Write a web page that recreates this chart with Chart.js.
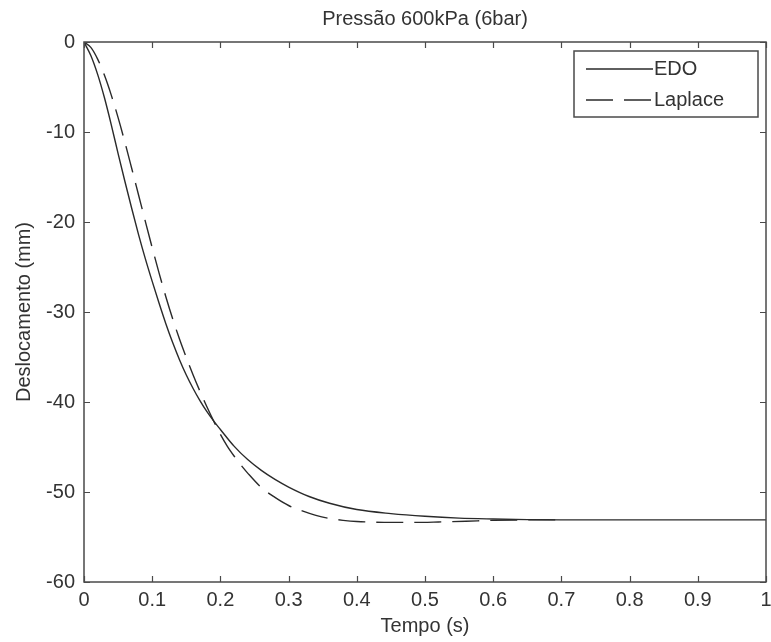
<!DOCTYPE html>
<html>
<head>
<meta charset="utf-8">
<script src="https://cdn.jsdelivr.net/npm/chart.js@4.4.1/dist/chart.umd.min.js"></script>
<style>
  body { margin: 0; background: #fff; }
  #wrap { width: 771px; height: 642px; }
</style>
</head>
<body>
<div id="wrap"><canvas id="grafico" width="771" height="642"></canvas></div>
<script>
// tempo (s) e deslocamento (mm)
const tempoEdo = [0, 0.01, 0.02, 0.03, 0.04, 0.05, 0.06, 0.07, 0.08, 0.09, 0.10, 0.11, 0.12, 0.13, 0.14, 0.15,
  0.16, 0.17, 0.18, 0.19, 0.20, 0.22, 0.24, 0.26, 0.28, 0.30, 0.33, 0.36, 0.40, 0.45, 0.50, 0.55, 0.60, 0.65, 0.70, 0.80, 1.0];
const deslocEdo = [0, -1.5, -3.6, -6.2, -9.2, -12.4, -15.5, -18.5, -21.4, -24.1, -26.6, -29.0, -31.3, -33.4, -35.3, -37.0,
  -38.5, -39.85, -41.05, -42.1, -43.05, -44.9, -46.4, -47.6, -48.6, -49.45, -50.5, -51.25, -51.95, -52.4, -52.7, -52.9, -53.0, -53.07, -53.1, -53.1, -53.1];

const tempoLaplace = [0, 0.01, 0.02, 0.03, 0.04, 0.05, 0.06, 0.07, 0.08, 0.09, 0.10, 0.11, 0.12, 0.13, 0.14, 0.15,
  0.16, 0.17, 0.18, 0.19, 0.20, 0.21, 0.22, 0.23, 0.24, 0.26, 0.28, 0.30, 0.32, 0.34, 0.36, 0.38, 0.40, 0.44, 0.48,
  0.52, 0.56, 0.60, 0.65, 0.70];
const deslocLaplace = [0, -0.6, -1.9, -3.7, -5.9, -8.4, -11.15, -14.05, -17.0, -19.95, -22.85, -25.65, -28.3, -30.75, -33.0, -35.05,
  -37.0, -38.8, -40.5, -42.1, -43.6, -44.9, -46.0, -47.0, -47.9, -49.5, -50.6, -51.5, -52.1, -52.6, -52.95, -53.15, -53.28, -53.37, -53.38,
  -53.33, -53.25, -53.15, -53.1, -53.1];

const ticksX = [0, 0.1, 0.2, 0.3, 0.4, 0.5, 0.6, 0.7, 0.8, 0.9, 1];
const rotulosX = ['0', '0.1', '0.2', '0.3', '0.4', '0.5', '0.6', '0.7', '0.8', '0.9', '1'];
const ticksY = [-60, -50, -40, -30, -20, -10, 0];
const rotulosY = ['-60', '-50', '-40', '-30', '-20', '-10', '0'];

const fonte = { family: '"Liberation Sans", Arial, sans-serif', size: 20 };
const corEixo = '#4a4a4a';
const corTexto = '#333333';

const pontos = (xs, ys) => xs.map((x, i) => ({ x: x, y: ys[i] }));

// caixa estilo MATLAB, marcas para dentro e legenda
const caixaMatlab = {
  id: 'caixaMatlab',
  afterDraw(chart) {
    const { ctx, chartArea: a, scales } = chart;
    ctx.save();
    ctx.strokeStyle = corEixo;
    ctx.lineWidth = 1.5;
    ctx.strokeRect(a.left, a.top, a.right - a.left, a.bottom - a.top);
    const m = 6;
    ctx.beginPath();
    ticksX.forEach(v => {
      const px = Math.round(scales.x.getPixelForValue(v)) + 0.5;
      ctx.moveTo(px, a.bottom); ctx.lineTo(px, a.bottom - m);
      ctx.moveTo(px, a.top); ctx.lineTo(px, a.top + m);
    });
    ticksY.forEach(v => {
      const py = Math.round(scales.y.getPixelForValue(v)) + 0.5;
      ctx.moveTo(a.left, py); ctx.lineTo(a.left + m, py);
      ctx.moveTo(a.right, py); ctx.lineTo(a.right - m, py);
    });
    ctx.lineWidth = 1.2;
    ctx.stroke();

    // legenda
    const lx = 574, ly = 51, lw = 184, lh = 66;
    ctx.fillStyle = '#fff';
    ctx.fillRect(lx, ly, lw, lh);
    ctx.lineWidth = 1.5;
    ctx.strokeStyle = corEixo;
    ctx.strokeRect(lx, ly, lw, lh);
    ctx.font = fonte.size + 'px ' + fonte.family;
    ctx.textBaseline = 'middle';
    ctx.fillStyle = corTexto;
    chart.data.datasets.forEach((ds, i) => {
      const y = ly + 18 + i * 31;
      ctx.beginPath();
      ctx.setLineDash(ds.borderDash || []);
      ctx.strokeStyle = ds.borderColor;
      ctx.lineWidth = ds.borderWidth;
      ctx.moveTo(586, y); ctx.lineTo(653, y);
      ctx.stroke();
      ctx.setLineDash([]);
      ctx.fillText(ds.label, 654, y);
    });
    ctx.restore();
  }
};

new Chart(document.getElementById('grafico'), {
  type: 'line',
  data: {
    datasets: [
      {
        label: 'EDO',
        data: pontos(tempoEdo, deslocEdo),
        borderColor: '#2a2a2a',
        borderWidth: 1.4,
        pointRadius: 0,
        cubicInterpolationMode: 'monotone'
      },
      {
        label: 'Laplace',
        data: pontos(tempoLaplace, deslocLaplace),
        borderColor: '#2a2a2a',
        borderWidth: 1.4,
        borderDash: [27, 11],
        pointRadius: 0,
        cubicInterpolationMode: 'monotone'
      }
    ]
  },
  options: {
    responsive: false,
    animation: false,
    layout: { padding: { left: 0, right: 5, top: 0, bottom: 0 } },
    plugins: {
      legend: { display: false },
      tooltip: { enabled: false },
      title: {
        display: true,
        fullSize: false,
        text: 'Pressão 600kPa (6bar)',
        color: corTexto,
        font: { family: fonte.family, size: fonte.size, weight: 'normal' },
        padding: { top: 7, bottom: 11 }
      }
    },
    scales: {
      x: {
        type: 'linear',
        min: 0,
        max: 1,
        afterBuildTicks: s => { s.ticks = ticksX.map(v => ({ value: v })); },
        afterFit: s => { s.height = 60; s.paddingRight = 0; s.paddingLeft = 0; },
        grid: { display: false, drawTicks: false },
        border: { display: false },
        ticks: { color: corTexto, font: fonte, padding: 6, maxRotation: 0, autoSkip: false,
          callback: (v, i) => rotulosX[i] },
        title: { display: true, text: 'Tempo (s)', color: corTexto, font: fonte, padding: { top: 0, bottom: 4 } }
      },
      y: {
        type: 'linear',
        min: -60,
        max: 0,
        afterBuildTicks: s => { s.ticks = ticksY.map(v => ({ value: v })); },
        afterFit: s => { s.width = 84; },
        grid: { display: false, drawTicks: false },
        border: { display: false },
        ticks: { color: corTexto, font: fonte, padding: 9, autoSkip: false,
          callback: (v, i) => rotulosY[i] },
        title: { display: true, text: 'Deslocamento (mm)', color: corTexto, font: fonte, padding: { top: 12, bottom: 0 } }
      }
    }
  },
  plugins: [caixaMatlab]
});
</script>
</body>
</html>
